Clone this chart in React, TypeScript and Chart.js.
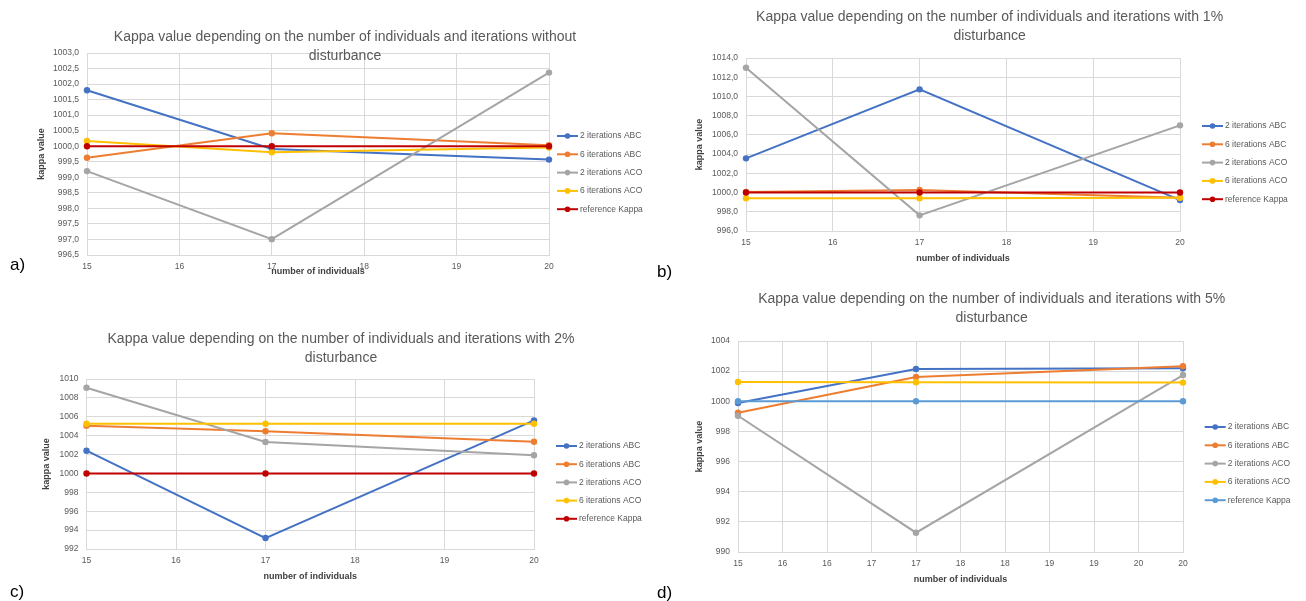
import React, { useEffect, useRef } from 'react';
import { Chart, registerables } from 'chart.js';

Chart.register(...registerables);

const FONT = "'Liberation Sans', Arial, sans-serif";
Chart.defaults.font.family = FONT;

// ---------- data ----------
const individuals = [15, 17, 20];
const seriesLabels = ['2 iterations ABC', '6 iterations ABC', '2 iterations ACO', '6 iterations ACO', 'reference Kappa'];

// a) without disturbance
const aAbc2 = [1001.8, 999.91, 999.57];
const aAbc6 = [999.63, 1000.42, 1000.03];
const aAco2 = [999.2, 997.01, 1002.37];
const aAco6 = [1000.17, 999.81, 999.96];
const aRef = [1000, 1000, 1000];

// b) 1% disturbance
const bAbc2 = [1003.56, 1010.74, 999.22];
const bAbc6 = [1000.06, 1000.26, 999.47];
const bAco2 = [1012.99, 997.63, 1006.99];
const bAco6 = [999.4, 999.4, 999.45];
const bRef = [1000, 1000, 1000];

// c) 2% disturbance
const cAbc2 = [1002.41, 993.16, 1005.62];
const cAbc6 = [1005.06, 1004.46, 1003.36];
const cAco2 = [1009.08, 1003.33, 1001.92];
const cAco6 = [1005.27, 1005.26, 1005.26];
const cRef = [1000, 1000, 1000];

// d) 5% disturbance
const dAbc2 = [999.89, 1002.14, 1002.19];
const dAbc6 = [999.24, 1001.61, 1002.32];
const dAco2 = [999.04, 991.28, 1001.74];
const dAco6 = [1001.28, 1001.26, 1001.24];
const dRef = [1000, 1000, 1000];

// axis ranges [min, max, step]
const aYAxis = [996.5, 1003, 0.5];
const bYAxis = [996, 1014, 2];
const cYAxis = [992, 1010, 2];
const dYAxis = [990, 1004, 2];
const xAxisRange = [15, 20];

const titleA = ['Kappa value depending on the number of individuals and iterations without', 'disturbance'];
const titleB = ['Kappa value depending on the number of individuals and iterations with 1%', 'disturbance'];
const titleC = ['Kappa value depending on the number of individuals and iterations with 2%', 'disturbance'];
const titleD = ['Kappa value depending on the number of individuals and iterations with 5%', 'disturbance'];

// ---------- style ----------
const BLUE = '#4472C4';
const ORANGE = '#ED7D31';
const GRAY = '#A5A5A5';
const YELLOW = '#FFC000';
const DARKRED = '#C00000';
const LIGHTBLUE = '#5B9BD5';
const GRID = '#D9D9D9';
const TEXT = '#595959';
const AXT = '#404040';

type Spec = {
  key: string;
  left: number; top: number; w: number; h: number;
  plot: { l: number; t: number; r: number; b: number };
  title: string[]; titleX: number; titleY: number; titleGap: number;
  legendX: number; legendY: number; legendGap: number;
  series: number[][]; colors: string[];
  yAxis: number[]; yDecimals: number; xStep: number;
  yTitlePad: number; xTitlePad: number;
};

const panels: Spec[] = [
  {
    key: 'a', left: 0, top: 0, w: 653, h: 290,
    plot: { l: 87, t: 53, r: 549, b: 255 },
    title: titleA, titleX: 345, titleY: 37, titleGap: 19.5,
    legendX: 557, legendY: 136, legendGap: 18.3,
    series: [aAbc2, aAbc6, aAco2, aAco6, aRef], colors: [BLUE, ORANGE, GRAY, YELLOW, DARKRED],
    yAxis: aYAxis, yDecimals: 1, xStep: 1, yTitlePad: 36.6, xTitlePad: 12.6,
  },
  {
    key: 'b', left: 653, top: 0, w: 653, h: 290,
    plot: { l: 93, t: 58, r: 527, b: 231 },
    title: titleB, titleX: 336.6, titleY: 17, titleGap: 19,
    legendX: 549, legendY: 126, legendGap: 18.3,
    series: [bAbc2, bAbc6, bAco2, bAco6, bRef], colors: [BLUE, ORANGE, GRAY, YELLOW, DARKRED],
    yAxis: bYAxis, yDecimals: 1, xStep: 1, yTitlePad: 41.6, xTitlePad: 25.6,
  },
  {
    key: 'c', left: 0, top: 290, w: 653, h: 311,
    plot: { l: 86.5, t: 89, r: 534, b: 259 },
    title: titleC, titleX: 341, titleY: 49, titleGap: 19,
    legendX: 556, legendY: 156, legendGap: 18.2,
    series: [cAbc2, cAbc6, cAco2, cAco6, cRef], colors: [BLUE, ORANGE, GRAY, YELLOW, DARKRED],
    yAxis: cYAxis, yDecimals: 0, xStep: 1, yTitlePad: 41.6, xTitlePad: 18.6,
  },
  {
    key: 'd', left: 653, top: 290, w: 653, h: 311,
    plot: { l: 85, t: 51, r: 530, b: 262 },
    title: titleD, titleX: 338.7, titleY: 9, titleGap: 19,
    legendX: 551.7, legendY: 137, legendGap: 18.3,
    series: [dAbc2, dAbc6, dAco2, dAco6, dRef], colors: [BLUE, ORANGE, GRAY, YELLOW, LIGHTBLUE],
    yAxis: dYAxis, yDecimals: 0, xStep: 0.5, yTitlePad: 41.6, xTitlePad: 15.6,
  },
];

const panelLabels = [
  { text: 'a)', x: 10, y: 256 },
  { text: 'b)', x: 657, y: 263 },
  { text: 'c)', x: 10, y: 583 },
  { text: 'd)', x: 657, y: 584 },
];

function decorPlugin(s: Spec) {
  return {
    id: 'decor' + s.key,
    afterDraw(chart: any) {
      const ctx = chart.ctx as CanvasRenderingContext2D;
      ctx.save();
      ctx.fillStyle = TEXT;
      ctx.font = `14px ${FONT}`;
      ctx.textAlign = 'center';
      ctx.textBaseline = 'middle';
      s.title.forEach((t, i) => ctx.fillText(t, s.titleX, s.titleY + i * s.titleGap));
      chart.data.datasets.forEach((ds: any, i: number) => {
        const y = s.legendY + i * s.legendGap;
        const x = s.legendX;
        ctx.strokeStyle = ds.borderColor;
        ctx.lineWidth = 2;
        ctx.beginPath();
        ctx.moveTo(x, y);
        ctx.lineTo(x + 21, y);
        ctx.stroke();
        ctx.fillStyle = ds.borderColor;
        ctx.beginPath();
        ctx.arc(x + 10.5, y, 2.8, 0, Math.PI * 2);
        ctx.fill();
        ctx.fillStyle = TEXT;
        ctx.font = `8.5px ${FONT}`;
        ctx.textAlign = 'left';
        ctx.fillText(ds.label, x + 23, y);
      });
      ctx.restore();
    },
  };
}

function Panel({ spec }: { spec: Spec }) {
  const ref = useRef<HTMLCanvasElement>(null);
  useEffect(() => {
    const s = spec;
    const canvas = ref.current!;
    const n = s.series.length;
    const chart = new Chart(canvas, {
      type: 'line',
      data: {
        datasets: s.series.map((vals, i) => ({
          label: seriesLabels[i],
          data: individuals.map((x, j) => ({ x, y: vals[j] })),
          borderColor: s.colors[i],
          backgroundColor: s.colors[i],
          borderWidth: 2,
          pointRadius: 3.2,
          pointBorderWidth: 0,
          pointHoverRadius: 3.2,
          tension: 0,
          clip: false as any,
          order: n - i,
        })),
      },
      options: {
        responsive: false,
        animation: false,
        events: [],
        layout: { padding: { left: 0, top: s.plot.t, right: s.w - s.plot.r, bottom: 0 } },
        plugins: {
          legend: { display: false },
          title: { display: false },
          tooltip: { enabled: false },
        },
        scales: {
          x: {
            type: 'linear',
            min: xAxisRange[0],
            max: xAxisRange[1],
            ticks: {
              stepSize: s.xStep,
              autoSkip: false,
              maxRotation: 0,
              padding: 7,
              color: TEXT,
              font: { size: 8.5 },
              callback: (v: any) => String(Math.round(Number(v))),
            },
            grid: { color: GRID, drawTicks: false },
            border: { color: GRID },
            title: {
              display: true,
              text: 'number of individuals',
              color: AXT,
              font: { size: 9, weight: 'bold' },
              padding: { top: 0, bottom: s.xTitlePad },
            },
            afterFit: (sc: any) => {
              sc.height = s.h - s.plot.b;
              sc.paddingLeft = 0; sc.paddingRight = 0; sc.paddingTop = 0; sc.paddingBottom = 0;
            },
          },
          y: {
            type: 'linear',
            min: s.yAxis[0],
            max: s.yAxis[1],
            ticks: {
              stepSize: s.yAxis[2],
              autoSkip: false,
              padding: 8,
              color: TEXT,
              font: { size: 8.5 },
              callback: (v: any) => Number(v).toFixed(s.yDecimals).replace('.', ','),
            },
            grid: { color: GRID, drawTicks: false },
            border: { color: GRID },
            title: {
              display: true,
              text: 'kappa value',
              color: AXT,
              font: { size: 9, weight: 'bold' },
              padding: { top: s.yTitlePad, bottom: 0 },
            },
            afterFit: (sc: any) => {
              sc.width = s.plot.l;
              sc.paddingLeft = 0; sc.paddingRight = 0; sc.paddingTop = 0; sc.paddingBottom = 0;
            },
          },
        },
      } as any,
      plugins: [decorPlugin(s)],
    });
    return () => chart.destroy();
  }, [spec]);
  return (
    <canvas
      ref={ref}
      width={spec.w}
      height={spec.h}
      style={{ position: 'absolute', left: spec.left, top: spec.top, width: spec.w, height: spec.h }}
    />
  );
}

export default function App() {
  return (
    <div style={{ position: 'absolute', left: 0, top: 0, width: 1306, height: 601, background: '#fff', overflow: 'hidden' }}>
      {panels.map((p) => (
        <Panel key={p.key} spec={p} />
      ))}
      {panelLabels.map((l) => (
        <div
          key={l.text}
          style={{
            position: 'absolute', left: l.x, top: l.y, fontFamily: "'Liberation Sans', Arial, sans-serif",
            fontSize: 17, lineHeight: '17px', color: '#000',
          }}
        >
          {l.text}
        </div>
      ))}
    </div>
  );
}
